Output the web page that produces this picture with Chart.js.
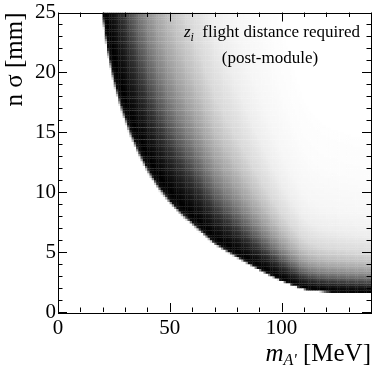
<!DOCTYPE html>
<html>
<head>
<meta charset="utf-8">
<script src="https://cdn.jsdelivr.net/npm/chart.js@4"></script>
<style>
  body { margin: 0; background: #fff; }
  #wrap { width: 390px; height: 377px; }
</style>
</head>
<body>
<div id="wrap"><canvas id="myChart" width="390" height="377"></canvas></div>
<script>
// lower edge of the band (mass in MeV -> n sigma in mm)
const edgeMass  = [19.5, 20, 22, 25, 28, 32, 36, 40, 45, 50, 55, 60, 65, 70, 75, 80, 85, 90, 95, 100, 105, 110, 115, 120, 130, 140];
const edgeSigma = [27, 25.3, 22.5, 19.7, 17.6, 15.4, 13.6, 12.1, 10.6, 9.4, 8.4, 7.55, 6.7, 5.85, 5.25, 4.7, 4.15, 3.62, 3.12, 2.66, 2.28, 1.95, 1.8, 1.72, 1.64, 1.58];

// darkness of a cell vs. (n sigma / lower edge) in the same mass column
const shadeRatio = [0.96, 1.0, 1.08, 1.25, 1.45, 1.65, 1.9, 2.2, 2.6, 3.1, 4.0, 5.0, 7.0, 10.0];
const shadeLevel = [0.0, 0.95, 1.0, 0.92, 0.8, 0.65, 0.5, 0.37, 0.25, 0.15, 0.07, 0.035, 0.012, 0.0];

// histogram binning and axis ticks
const massBinWidth = 1, massBins = 140;
const sigmaBinWidth = 0.2, sigmaBins = 125;
const massTicks = [0, 50, 100];
const sigmaTicks = [0, 5, 10, 15, 20, 25];
const massMinorStep = 10, sigmaMinorStep = 1;

const serif = '"Liberation Serif", "Times New Roman", serif';

function interp(xs, ys, v) {
    if (v <= xs[0]) return ys[0];
    for (let i = 1; i < xs.length; i++) {
        if (v <= xs[i]) {
            let t = (v - xs[i - 1]) / (xs[i] - xs[i - 1]);
            return ys[i - 1] + t * (ys[i] - ys[i - 1]);
        }
    }
    return ys[ys.length - 1];
}

let cells = [];
for (let i = 0; i < massBins; i++) {
    let xc = (i + 0.5) * massBinWidth;
    let y0 = xc < edgeMass[0] ? Infinity : interp(edgeMass, edgeSigma, xc);
    for (let j = 0; j < sigmaBins; j++) {
        let yc = (j + 0.5) * sigmaBinWidth;
        let r = yc / y0;
        let d = r < shadeRatio[0] ? 0 : interp(shadeRatio, shadeLevel, r);
        if (d > 0.004) {
            let g = Math.round(255 * (1 - d));
            cells.push({ x: xc, y: yc, c: "rgb(" + g + "," + g + "," + g + ")" });
        }
    }
}

// frame, inward ticks on all four sides, x title and the note
const framePlugin = {
    id: "frame",
    afterDatasetsDraw(chart) {
        const { ctx, chartArea: a, scales: { x, y } } = chart;
        ctx.save();
        ctx.strokeStyle = "#000";
        ctx.lineWidth = 1;
        ctx.beginPath();
        for (let v = 0; v <= 140; v += massMinorStep) {
            let px = Math.round(x.getPixelForValue(v)) + 0.5;
            let len = massTicks.includes(v) ? 9 : 4.5;
            ctx.moveTo(px, a.bottom); ctx.lineTo(px, a.bottom - len);
            ctx.moveTo(px, a.top); ctx.lineTo(px, a.top + len);
        }
        for (let v = 0; v <= 25; v += sigmaMinorStep) {
            let py = Math.round(y.getPixelForValue(v)) + 0.5;
            let len = sigmaTicks.includes(v) ? 9 : 4.5;
            ctx.moveTo(a.left, py); ctx.lineTo(a.left + len, py);
            ctx.moveTo(a.right, py); ctx.lineTo(a.right - len, py);
        }
        ctx.stroke();
        ctx.strokeRect(Math.round(a.left) + 0.5, Math.round(a.top) + 0.5,
            Math.round(a.right - a.left), Math.round(a.bottom - a.top));

        ctx.fillStyle = "#000";
        ctx.textBaseline = "alphabetic";
        ctx.textAlign = "left";

        // x axis title: m_{A'} [MeV], right aligned to the frame
        let fBig = "italic 25px " + serif, fSub = "italic 16px " + serif, fReg = "25px " + serif;
        ctx.font = fBig; let w1 = ctx.measureText("m").width;
        ctx.font = fSub; let w2 = ctx.measureText("A'").width;
        ctx.font = fReg; let w3 = ctx.measureText(" [MeV]").width;
        let tx = a.right - (w1 + w2 + w3), ty = 361;
        ctx.font = fBig; ctx.fillText("m", tx, ty);
        ctx.font = fSub; ctx.fillText("A'", tx + w1, ty + 4);
        ctx.font = fReg; ctx.fillText(" [MeV]", tx + w1 + w2, ty);

        // note in the top right corner
        let nz = "italic 17px " + serif, ni = "italic 12px " + serif, nr = "17px " + serif;
        ctx.font = nz; let z1 = ctx.measureText("z").width;
        ctx.font = ni; let z2 = ctx.measureText("i").width;
        ctx.font = nr; let z3 = ctx.measureText("  flight distance required").width;
        let nx = 360 - (z1 + z2 + z3), ny = 37;
        ctx.font = nz; ctx.fillText("z", nx, ny);
        ctx.font = ni; ctx.fillText("i", nx + z1, ny + 4);
        ctx.font = nr; ctx.fillText("  flight distance required", nx + z1 + z2, ny);
        ctx.textAlign = "center";
        ctx.fillText("(post-module)", 270, 63);
        ctx.restore();
    }
};

let ctx = document.getElementById("myChart");
let myChart = new Chart(ctx, {
    type: "scatter",
    data: {
        datasets: [
            {
                data: cells,
                pointStyle: "rect",
                pointRadius: 1.85,
                borderWidth: 0,
                backgroundColor: (c) => (c.raw ? c.raw.c : "#000"),
                clip: 0
            }
        ]
    },
    options: {
        responsive: false,
        devicePixelRatio: 1,
        animation: false,
        events: [],
        layout: { padding: { top: 11, right: 19, left: 0, bottom: 0 } },
        plugins: { legend: { display: false }, tooltip: { enabled: false } },
        scales: {
            x: {
                type: "linear",
                min: 0,
                max: 140,
                afterBuildTicks: (s) => { s.ticks = massTicks.map((v) => ({ value: v })); },
                afterFit: (s) => { s.height = 65; },
                grid: { display: false, drawTicks: false },
                border: { display: false },
                ticks: { color: "#000", padding: 6, autoSkip: false, maxRotation: 0,
                         font: { family: serif, size: 21, lineHeight: 1 } }
            },
            y: {
                type: "linear",
                min: 0,
                max: 25,
                afterBuildTicks: (s) => { s.ticks = sigmaTicks.map((v) => ({ value: v })); },
                afterFit: (s) => { s.width = 58; },
                grid: { display: false, drawTicks: false },
                border: { display: false },
                ticks: { color: "#000", padding: 2, autoSkip: false,
                         font: { family: serif, size: 21, lineHeight: 1 } },
                title: { display: true, text: "n σ [mm]", align: "end", color: "#000",
                         font: { family: serif, size: 25 }, padding: { top: 0, bottom: 0 } }
            }
        }
    },
    plugins: [framePlugin]
});
</script>
</body>
</html>
